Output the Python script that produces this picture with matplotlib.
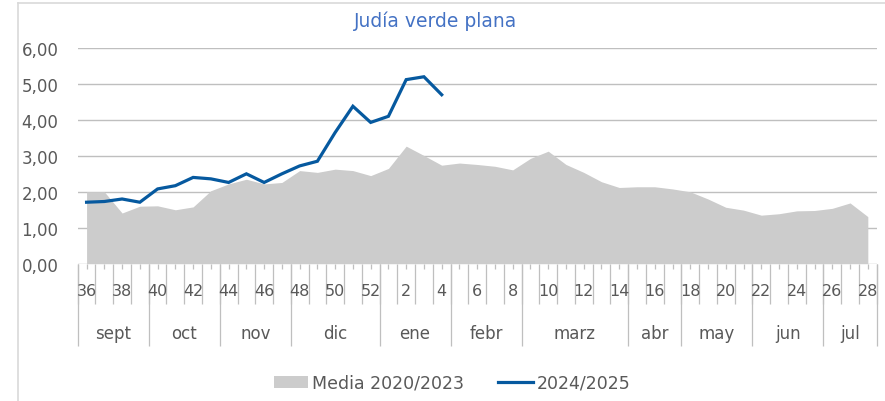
import matplotlib
matplotlib.use("Agg")
import matplotlib.pyplot as plt
import numpy as np
from matplotlib.lines import Line2D
from matplotlib.patches import Patch

# semanas de campaña: 36..52 y 1..28
weeks = list(range(36, 53)) + list(range(1, 29))

media_2020_2023 = [
    2.00, 2.00, 1.41, 1.60, 1.61, 1.50, 1.58, 2.03, 2.22, 2.35,
    2.22, 2.26, 2.59, 2.54, 2.63, 2.59, 2.45, 2.65, 3.27, 3.01,
    2.74, 2.80, 2.76, 2.71, 2.61, 2.93, 3.13, 2.76, 2.54, 2.28,
    2.12, 2.14, 2.14, 2.08, 2.00, 1.80, 1.57, 1.49, 1.35, 1.39,
    1.47, 1.48, 1.54, 1.69, 1.31,
]

campaign_2024_2025 = [
    1.71, 1.73, 1.80, 1.71, 2.08, 2.17, 2.40, 2.36, 2.26, 2.50,
    2.26, 2.50, 2.72, 2.85, 3.65, 4.38, 3.93, 4.10, 5.12, 5.20,
    4.70,
]

months = ["sept", "oct", "nov", "dic", "ene", "febr", "marz", "abr", "may", "jun", "jul"]
weeks_per_month = [4, 4, 4, 5, 4, 4, 6, 3, 4, 4, 3]

yticks = [0, 1, 2, 3, 4, 5, 6]

TEXT = "#595959"
GRID = "#BFBFBF"
AREA = "#CCCCCC"
LINE = "#06599F"
FONT = "DejaVu Sans"

plt.rcParams["font.family"] = FONT

fig = plt.figure(figsize=(8.85, 4.02), dpi=100)
W, H = 885, 402
x0, x1, ytop, ybot = 77.7, 876.7, 49.0, 264.7
ax = fig.add_axes([x0 / W, 1 - ybot / H, (x1 - x0) / W, (ybot - ytop) / H])

x = np.arange(len(weeks))
ax.fill_between(x, 0, media_2020_2023, color=AREA, linewidth=0, zorder=2)
ax.plot(x[: len(campaign_2024_2025)], campaign_2024_2025, color=LINE,
        linewidth=2.3, solid_joinstyle="miter", zorder=3)

ax.set_xlim(-0.5, len(weeks) - 0.5)
ax.set_ylim(0, 6)
ax.set_yticks(yticks)
ax.set_yticklabels([f"{v:.2f}".replace(".", ",") for v in yticks])
ax.tick_params(axis="y", length=0, pad=14, labelsize=12, labelcolor=TEXT)
ax.set_xticks([])
for v in yticks:
    ax.axhline(v, color=GRID, linewidth=1.0, zorder=1)
for s in ax.spines.values():
    s.set_visible(False)

# eje de categorías en dos niveles, dibujado a mano
tr = ax.get_xaxis_transform()
axh = ybot - ytop


def ay(px):
    return -(px - ybot) / axh


bounds = np.arange(len(weeks) + 1) - 0.5
ax.vlines(bounds, ay(305), 0, transform=tr, color=GRID, linewidth=0.9, clip_on=False)
ax.vlines(x, ay(270), 0, transform=tr, color=GRID, linewidth=0.9, clip_on=False)
for i, w in enumerate(weeks):
    if i % 2 == 0:
        ax.text(i, ay(291), str(w), transform=tr, ha="center", va="center",
                fontsize=11.5, color=TEXT, clip_on=False)

edges = np.concatenate([[0], np.cumsum(weeks_per_month)]) - 0.5
ax.vlines(edges, ay(347), 0, transform=tr, color=GRID, linewidth=0.9, clip_on=False)
for m, a, b in zip(months, edges[:-1], edges[1:]):
    ax.text((a + b) / 2, ay(334), m, transform=tr, ha="center", va="center",
            fontsize=12, color=TEXT, clip_on=False)

fig.text(436 / W, 1 - 21 / H, "Judía verde plana", ha="center", va="center",
         fontsize=13.5, color="#4472C4")

handles = [Patch(facecolor=AREA, edgecolor="none"),
           Line2D([0], [0], color=LINE, linewidth=2.3)]
leg = fig.legend(handles, ["Media 2020/2023", "2024/2025"], loc="center",
                 bbox_to_anchor=(452 / W, 1 - 384 / H), ncol=2, frameon=False,
                 fontsize=12.5, handlelength=2.0, handletextpad=0.2,
                 columnspacing=2.0)
for t in leg.get_texts():
    t.set_color(TEXT)

# marco del gráfico
fig.add_artist(Line2D([18 / W, 1], [1 - 4 / H, 1 - 4 / H], color="#D9D9D9", linewidth=1.2))
fig.add_artist(Line2D([18 / W, 18 / W], [0, 1 - 4 / H], color="#D9D9D9", linewidth=1.2))

fig.savefig("out.png", dpi=100)
